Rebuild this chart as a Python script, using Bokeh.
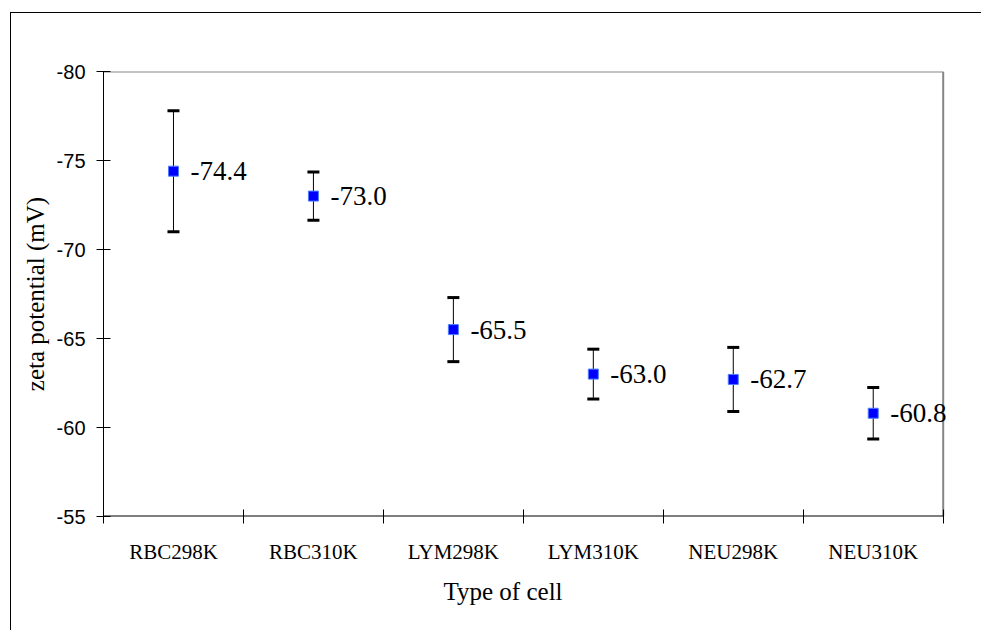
from bokeh.plotting import figure
from bokeh.models import (Range1d, FixedTicker, Whisker, ColumnDataSource,
                          TeeHead, InlineStyleSheet, LabelSet, Title)
from bokeh.core.properties import value
from bokeh.embed import file_html
from bokeh.resources import INLINE

# Zeta potential per cell type and temperature (mean and error, mV)
cells = ["RBC298K", "RBC310K", "LYM298K", "LYM310K", "NEU298K", "NEU310K"]
zeta_mv = [-74.4, -73.0, -65.5, -63.0, -62.7, -60.8]
zeta_err = [3.4, 1.35, 1.8, 1.4, 1.8, 1.45]
y_ticks = [-80, -75, -70, -65, -60, -55]

# categories sit in the middle of unit-wide slots; ticks mark slot boundaries
centers = [i + 0.5 for i in range(len(cells))]
bounds = list(range(len(cells) + 1))

src = ColumnDataSource(dict(
    x=centers,
    y=zeta_mv,
    upper=[v - e for v, e in zip(zeta_mv, zeta_err)],
    lower=[v + e for v, e in zip(zeta_mv, zeta_err)],
    label=[f"{v:.1f}" for v in zeta_mv],
))

# the drawing area runs a little past the last slot so that the value
# label of the last point can overhang the plot border
x_pad = 0.1236

p = figure(width=981, height=630,
           x_range=Range1d(bounds[0], bounds[-1] + x_pad),
           y_range=Range1d(y_ticks[-1], y_ticks[0]),
           output_backend="svg", toolbar_location=None,
           min_border_left=103, min_border_right=21,
           min_border_top=71, min_border_bottom=114)
p.xgrid.visible = False
p.ygrid.visible = False
p.background_fill_color = "white"
p.border_fill_color = "white"
p.outline_line_color = None

# page frame along the top and left edges, running off the page
p.stylesheets = [InlineStyleSheet(css="""
:host { position: relative; }
:host::after {
  content: "";
  position: absolute;
  left: 10px; top: 12px; width: 2000px; height: 2000px;
  border-top: 1.5px solid black;
  border-left: 1.5px solid black;
  pointer-events: none;
}
""")]

SERIF = "Liberation Serif"
SANS = "Liberation Sans"

# plot border: grey top and right, black bottom (left is the y axis line)
x0, x1 = bounds[0], bounds[-1]
ytop, ybot = y_ticks[0], y_ticks[-1]
p.segment(x0=[x0, x1], y0=[ytop, ytop], x1=[x1, x1], y1=[ytop, ybot],
          line_color="#868686", line_width=2)
p.segment(x0=[x0], y0=[ybot], x1=[x1], y1=[ybot],
          line_color="black", line_width=2)

# x axis: names under each slot, ticks between slots
xa = p.xaxis[0]
xa.ticker = FixedTicker(ticks=centers, minor_ticks=bounds)
xa.major_label_overrides = {c: name for c, name in zip(centers, cells)}
xa.major_tick_in = 0
xa.major_tick_out = 0
xa.minor_tick_in = 7
xa.minor_tick_out = 7
xa.minor_tick_line_color = "black"
xa.axis_line_color = None
xa.major_label_text_font = SERIF
xa.major_label_text_font_size = "21px"
xa.major_label_text_color = "black"
xa.major_label_standoff = 16

# x axis title, centred under the category slots
p.add_layout(Title(text="Type of cell", align="left", offset=340,
                   text_font=SERIF, text_font_size="25px",
                   text_font_style="normal", text_color="black",
                   standoff=18), "below")

# y axis: reversed, -80 on top, plain hyphen minus signs
ya = p.yaxis[0]
ya.ticker = FixedTicker(ticks=y_ticks)
ya.major_label_overrides = {t: f"{t:d}" for t in y_ticks}
ya.major_tick_in = 7
ya.major_tick_out = 7
ya.minor_tick_line_color = None
ya.major_tick_line_color = "black"
ya.axis_line_color = "black"
ya.major_label_text_font = SANS
ya.major_label_text_font_size = "20px"
ya.major_label_text_color = "black"
ya.major_label_standoff = 11
ya.axis_label = "zeta potential (mV)"
ya.axis_label_text_font = SERIF
ya.axis_label_text_font_size = "25px"
ya.axis_label_text_font_style = "normal"
ya.axis_label_text_color = "black"
ya.axis_label_standoff = 5

# error bars
whisk = Whisker(base="x", upper="upper", lower="lower", source=src,
                line_color="black", line_width=1, level="underlay",
                upper_head=TeeHead(size=12, line_width=3, line_color="black"),
                lower_head=TeeHead(size=12, line_width=3, line_color="black"))
p.add_layout(whisk)

# mean markers
p.scatter(x="x", y="y", source=src, marker="square", size=10,
          fill_color="#0000FF", line_color="#4D7DFF", line_width=1)

# value labels beside each marker
labels = LabelSet(x="x", y="y", text="label", source=src, x_offset=17,
                  text_baseline="middle", text_align="left",
                  text_font=value(SERIF), text_font_size=value("27px"),
                  text_color="black")
p.add_layout(labels)

open("out.html", "w").write(file_html(p, INLINE))
